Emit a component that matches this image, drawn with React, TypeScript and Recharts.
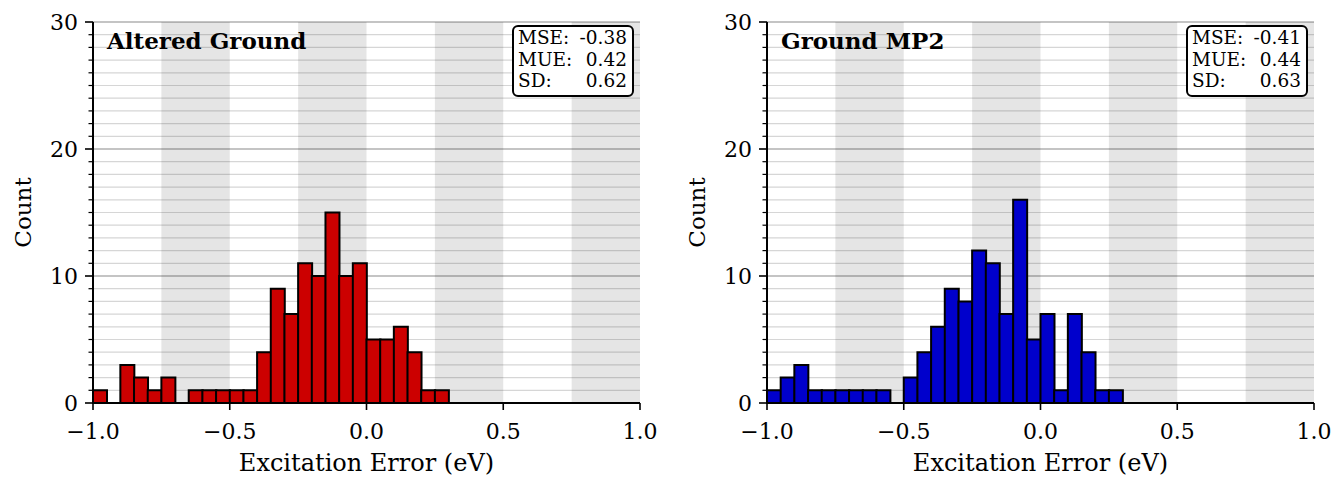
import React from "react";
import {
  ComposedChart,
  Bar,
  XAxis,
  YAxis,
  CartesianGrid,
  ReferenceArea,
  Label,
} from "recharts";

// Histogram bins: 40 bins of width 0.05 eV from -1.0 to 1.0 (bin start = category)
const BIN_STARTS = Array.from({ length: 40 }, (_, i) => -1 + i * 0.05);
const binKey = (v: number) => (Math.abs(v) < 1e-9 ? 0 : v).toFixed(2);

// Counts per bin
const alteredGroundCounts = [
  1, 0, 3, 2, 1, 2, 0, 1, 1, 1, 1, 1, 4, 9, 7, 11, 10, 15, 10, 11,
  5, 5, 6, 4, 1, 1, 0, 0, 0, 0, 0, 0, 0, 0, 0, 0, 0, 0, 0, 0,
];
const groundMp2Counts = [
  1, 2, 3, 1, 1, 1, 1, 1, 1, 0, 2, 4, 6, 9, 8, 12, 11, 7, 16, 5,
  7, 1, 7, 4, 1, 1, 0, 0, 0, 0, 0, 0, 0, 0, 0, 0, 0, 0, 0, 0,
];

// x tick labels sit on bin edges; the last one is the right edge of the last bin
const X_TICKS = [-1, -0.5, 0, 0.5, 1];
// shaded background bands (every other quarter)
const SHADED_BANDS: [number, number][] = [
  [-0.75, -0.5],
  [-0.25, 0],
  [0.25, 0.5],
  [0.75, 1],
];
const Y_TICKS = Array.from({ length: 31 }, (_, i) => i);

const FONT = "'DejaVu Serif', serif";
const BIN_W = 0.05;

interface Stats {
  mse: string;
  mue: string;
  sd: string;
}

const fmtX = (v: number) => v.toFixed(1).replace("-", "\u2212");

// X tick on a category axis: move the tick from the band centre to the band edge
function XTick(props: any) {
  const { x, y, payload, index, visibleTicksCount, width } = props;
  const half = payload?.offset ?? width / BIN_STARTS.length / 2;
  const last = index === visibleTicksCount - 1;
  const edge = last ? x + half : x - half;
  return (
    <g>
      <line x1={edge} x2={edge} y1={y} y2={y + 7} stroke="#000" strokeWidth={1.6} />
      <text
        x={edge}
        y={y + 36}
        textAnchor="middle"
        fontSize={22}
        fontFamily={FONT}
        fill="#000"
      >
        {fmtX(X_TICKS[index])}
      </text>
    </g>
  );
}

// Y tick: long tick + label every 10, short tick otherwise
function YTick(props: any) {
  const { x, y, payload } = props;
  const major = payload.value % 10 === 0;
  return (
    <g>
      <line
        x1={x - (major ? 8 : 4.5)}
        x2={x}
        y1={y}
        y2={y}
        stroke="#000"
        strokeWidth={major ? 1.6 : 1.2}
      />
      {major && (
        <text
          x={x - 15}
          y={y}
          dy="0.36em"
          textAnchor="end"
          fontSize={22}
          fontFamily={FONT}
          fill="#000"
        >
          {payload.value}
        </text>
      )}
    </g>
  );
}

// Horizontal grid: light line every count, darker every 10
function HLine(props: any) {
  const { x1, x2, y1, y2, index } = props;
  const major = index % 10 === 0;
  return (
    <line
      key={`h-${index}`}
      x1={x1}
      x2={x2}
      y1={y1}
      y2={y2}
      stroke={major ? "#b0b0b0" : "#d6d6d6"}
      strokeWidth={major ? 1.6 : 1.2}
    />
  );
}

function HistPanel({
  counts,
  color,
  title,
  stats,
  left,
}: {
  counts: number[];
  color: string;
  title: string;
  stats: Stats;
  left: number;
}) {
  const data = BIN_STARTS.map((b, i) => ({ bin: binKey(b), count: counts[i] }));
  // tick categories: bins starting at each tick value, last tick = end of last bin
  const tickCats = X_TICKS.map((v, i) =>
    i === X_TICKS.length - 1 ? binKey(v - BIN_W) : binKey(v)
  );

  return (
    <div style={{ position: "absolute", left, top: 0, width: 660, height: 479 }}>
      <ComposedChart
        width={660}
        height={479}
        data={data}
        margin={{ top: 22, right: 20, left: 33, bottom: 6 }}
        barCategoryGap={0}
        barGap={0}
      >
        <CartesianGrid stroke="none" vertical={false} horizontal={HLine} />
        {SHADED_BANDS.map(([a, b]) => (
          <ReferenceArea
            key={a}
            x1={binKey(a)}
            x2={binKey(b - BIN_W)}
            fill="#000"
            fillOpacity={0.1}
            stroke="none"
          />
        ))}
        <XAxis
          dataKey="bin"
          type="category"
          ticks={tickCats}
          interval={0}
          padding={{ left: 0, right: 0 }}
          height={70}
          tickSize={0}
          tickMargin={0}
          tick={<XTick />}
          tickLine={false}
          axisLine={{ stroke: "#000", strokeWidth: 2 }}
        >
          <Label
            value="Excitation Error (eV)"
            position="insideBottom"
            offset={2}
            style={{ fontSize: 24, fontFamily: FONT, fill: "#000" }}
          />
        </XAxis>
        <YAxis
          type="number"
          domain={[0, 30]}
          ticks={Y_TICKS}
          interval={0}
          width={60}
          tickSize={0}
          tickMargin={0}
          tick={<YTick />}
          tickLine={false}
          axisLine={{ stroke: "#000", strokeWidth: 2 }}
        >
          <Label
            value="Count"
            angle={-90}
            position="insideLeft"
            offset={0}
            dx={-10}
            style={{ fontSize: 23, fontFamily: FONT, fill: "#000", textAnchor: "middle" }}
          />
        </YAxis>
        <Bar
          dataKey="count"
          fill={color}
          stroke="#000"
          strokeWidth={2}
          isAnimationActive={false}
        />
      </ComposedChart>

      {/* Panel title */}
      <div
        style={{
          position: "absolute",
          left: 107,
          top: 27,
          fontFamily: FONT,
          fontWeight: "bold",
          fontSize: 23,
          lineHeight: "27px",
          color: "#000",
          whiteSpace: "nowrap",
        }}
      >
        {title}
      </div>

      {/* Stats box */}
      <div
        style={{
          position: "absolute",
          left: 512,
          top: 25,
          width: 122,
          height: 72,
          boxSizing: "border-box",
          border: "2px solid #000",
          borderRadius: 6,
          background: "#fff",
          fontFamily: FONT,
          fontSize: 18.5,
          lineHeight: "21.5px",
          color: "#000",
          padding: "0 5px 0 4px",
        }}
      >
        {[
          ["MSE:", stats.mse],
          ["MUE:", stats.mue],
          ["SD:", stats.sd],
        ].map(([k, v]) => (
          <div key={k} style={{ display: "flex", justifyContent: "space-between" }}>
            <span>{k}</span>
            <span>{v}</span>
          </div>
        ))}
      </div>
    </div>
  );
}

export default function App() {
  return (
    <div
      style={{
        position: "absolute",
        left: 0,
        top: 0,
        width: 1335,
        height: 479,
        background: "#fff",
        overflow: "hidden",
      }}
    >
      <HistPanel
        counts={alteredGroundCounts}
        color="#cc0000"
        title="Altered Ground"
        stats={{ mse: "-0.38", mue: "0.42", sd: "0.62" }}
        left={0}
      />
      <HistPanel
        counts={groundMp2Counts}
        color="#0000cc"
        title="Ground MP2"
        stats={{ mse: "-0.41", mue: "0.44", sd: "0.63" }}
        left={674}
      />
    </div>
  );
}
